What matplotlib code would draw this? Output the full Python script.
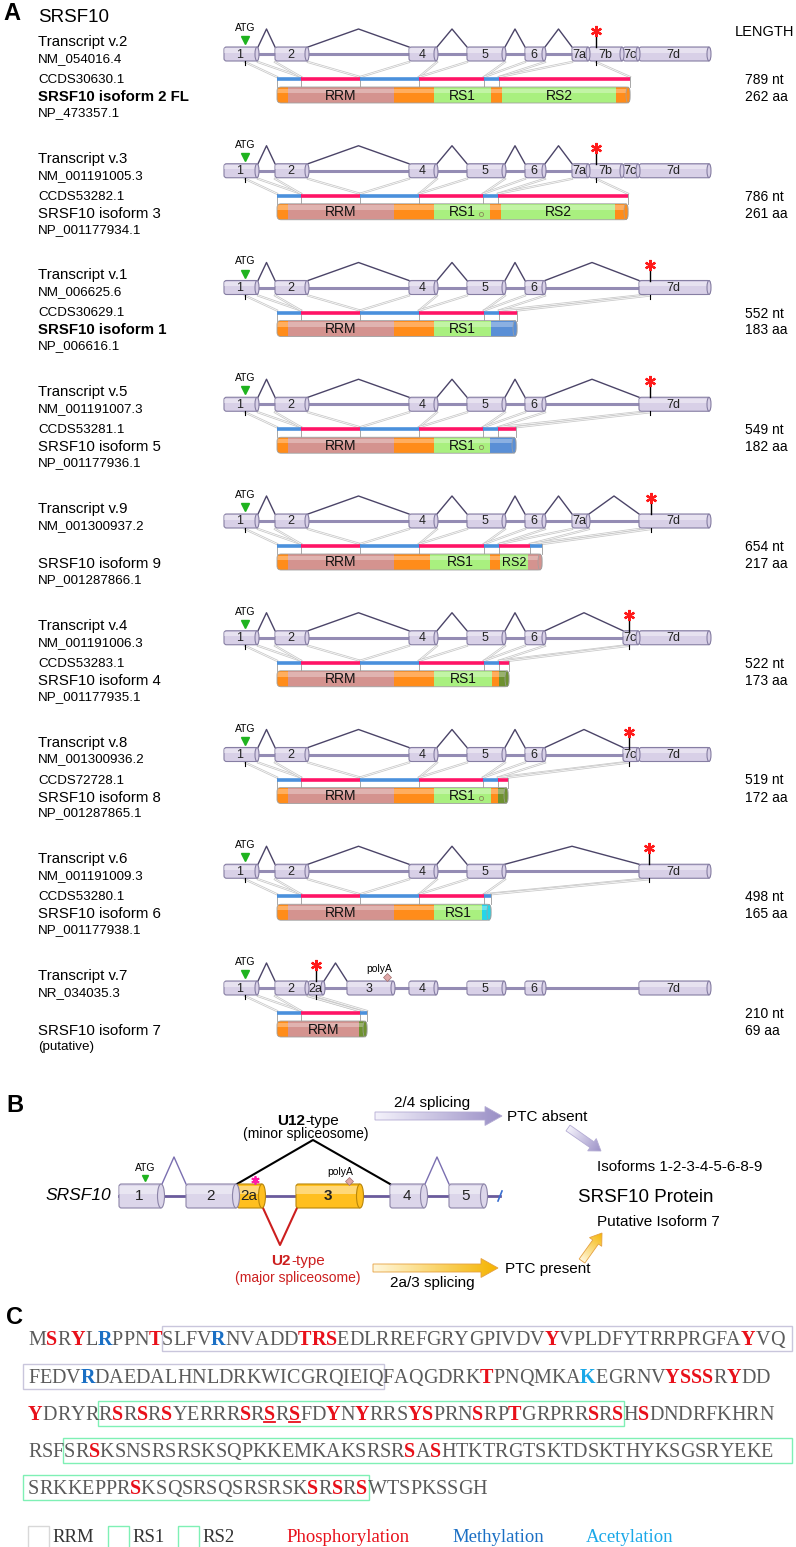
import numpy as np
import matplotlib
matplotlib.use("Agg")
import matplotlib.pyplot as plt
from matplotlib.patches import Rectangle, Ellipse, FancyBboxPatch, Polygon
from matplotlib.colors import LinearSegmentedColormap
from matplotlib.font_manager import FontProperties

plt.rcParams["font.family"] = ["Liberation Sans", "DejaVu Sans"]

# ---------------- panel A data ----------------
transcripts = ["Transcript v.2", "Transcript v.3", "Transcript v.1", "Transcript v.5", "Transcript v.9",
               "Transcript v.4", "Transcript v.8", "Transcript v.6", "Transcript v.7"]
refseq = ["NM_054016.4", "NM_001191005.3", "NM_006625.6", "NM_001191007.3", "NM_001300937.2",
          "NM_001191006.3", "NM_001300936.2", "NM_001191009.3", "NR_034035.3"]
ccds = ["CCDS30630.1", "CCDS53282.1", "CCDS30629.1", "CCDS53281.1", "",
        "CCDS53283.1", "CCDS72728.1", "CCDS53280.1", ""]
isoforms = ["SRSF10 isoform 2 FL", "SRSF10 isoform 3", "SRSF10 isoform 1", "SRSF10 isoform 5", "SRSF10 isoform 9",
            "SRSF10 isoform 4", "SRSF10 isoform 8", "SRSF10 isoform 6", "SRSF10 isoform 7"]
iso_bold = [True, False, True, False, False, False, False, False, False]
protein_ids = ["NP_473357.1", "NP_001177934.1", "NP_006616.1", "NP_001177936.1", "NP_001287866.1",
               "NP_001177935.1", "NP_001287865.1", "NP_001177938.1", "(putative)"]
nt_len = [789, 786, 552, 549, 654, 522, 519, 498, 210]
aa_len = [262, 261, 183, 182, 217, 173, 172, 165, 69]

exon_names = ["1", "2", "2a", "3", "4", "5", "6", "7a", "7b", "7c", "7d"]
exon_start = [224, 275, 308, 347, 409, 467, 525, 572, 589, 623, 639]
exon_end = [258, 308, 324, 394, 437, 505, 545, 589, 623, 639, 710]

exon_sets = [
    ["1", "2", "4", "5", "6", "7a", "7b", "7c", "7d"],
    ["1", "2", "4", "5", "6", "7a", "7b", "7c", "7d"],
    ["1", "2", "4", "5", "6", "7d"],
    ["1", "2", "4", "5", "6", "7d"],
    ["1", "2", "4", "5", "6", "7a", "7d"],
    ["1", "2", "4", "5", "6", "7c", "7d"],
    ["1", "2", "4", "5", "6", "7c", "7d"],
    ["1", "2", "4", "5", "7d"],
    ["1", "2", "2a", "3", "4", "5", "6", "7d"],
]
splices = [
    [("1", "2"), ("2", "4"), ("4", "5"), ("5", "6"), ("6", "7a")],
    [("1", "2"), ("2", "4"), ("4", "5"), ("5", "6"), ("6", "7a")],
    [("1", "2"), ("2", "4"), ("4", "5"), ("5", "6"), ("6", "7d")],
    [("1", "2"), ("2", "4"), ("4", "5"), ("5", "6"), ("6", "7d")],
    [("1", "2"), ("2", "4"), ("4", "5"), ("5", "6"), ("6", "7a"), ("7a", "7d")],
    [("1", "2"), ("2", "4"), ("4", "5"), ("5", "6"), ("6", "7c")],
    [("1", "2"), ("2", "4"), ("4", "5"), ("5", "6"), ("6", "7c")],
    [("1", "2"), ("2", "4"), ("4", "5"), ("5", "7d")],
    [("1", "2"), ("2a", "3")],
]
atg_pos = 245
stop_pos = [596, 596, 650, 650, 651, 629, 629, 649, 316]

stripe_edges = [
    [277, 301, 360, 419, 484, 499, 630],
    [277, 301, 360, 419, 483, 498, 628],
    [277, 301, 360, 419, 484, 499, 517],
    [277, 301, 360, 419, 483, 498, 516],
    [277, 301, 360, 419, 484, 499, 530, 542],
    [277, 301, 360, 419, 484, 499, 509],
    [277, 301, 360, 419, 483, 498, 508],
    [277, 301, 360, 419, 484, 491],
    [277, 301, 360, 367],
]
dom_edges = [
    [277, 288, 394, 434, 491, 502, 616, 630],
    [277, 288, 394, 434, 490, 501, 615, 628],
    [277, 288, 394, 434, 491, 517],
    [277, 288, 394, 434, 490, 516],
    [277, 288, 394, 430, 490, 500, 528, 542],
    [277, 288, 394, 434, 492, 499, 509],
    [277, 288, 394, 434, 491, 498, 508],
    [277, 288, 394, 434, 482, 491],
    [277, 288, 359, 367],
]
dom_kinds = [
    ["o", "rrm", "o", "rs", "o", "rs", "o"],
    ["o", "rrm", "o", "rs", "o", "rs", "o"],
    ["o", "rrm", "o", "rs", "b"],
    ["o", "rrm", "o", "rs", "b"],
    ["o", "rrm", "o", "rs", "o", "rs", "rrm"],
    ["o", "rrm", "o", "rs", "o", "ol"],
    ["o", "rrm", "o", "rs", "o", "ol"],
    ["o", "rrm", "o", "rs", "c"],
    ["o", "rrm", "ol"],
]
circle_rows = [1, 3, 6]
circle_x = 481

# ---------------- panel B data ----------------
b_exon_names = ["1", "2", "2a", "3", "4", "5"]
b_exon_start = [119, 186, 237, 296, 390, 449]
b_exon_end = [162, 237, 263, 361, 425, 485]
b_gold = ["2a", "3"]

# ---------------- panel C data ----------------
# * phosphorylation, # methylation, @ acetylation, _ phosphorylation (underlined)
seq_lines = [
    "M*SR*YL#RPPN*TSLFV#RNVADD*T*R*SEDLRREFGRYGPIVDV*YVPLDFYTRRPRGFA*YVQ",
    "FEDV#RDAEDALHNLDRKWICGRQIEIQFAQGDRK*TPNQMKA@KEGRNV*Y*S*S*SR*YDD",
    "*YDRYRR*SR*SR*SYERRR*SR_SR_SFD*YN*YRRS*Y*SPRN*SRP*TGRPRR*SR*SH*SDNDRFKHRN",
    "RSFSR*SKSNSRSRSKSQPKKEMKAKSRSR*SA*SHTKTRGTSKTDSKTHYKSGSRYEKE",
    "SRKKEPPR*SKSQSRSQSRSRSK*SR*SR*SWTSPKSSGH",
]
domain_boxes = [(0, 10, None, "RRM"), (1, 0, 27, "RRM"), (2, 5, 46, "RS1"),
                (3, 3, None, "RS2"), (4, 0, 27, "RS2")]
legend_boxes = ["RRM", "RS1", "RS2"]
legend_mods = ["Phosphorylation", "Methylation", "Acetylation"]

# ---------------- figure ----------------
W, H = 796, 1547
fig = plt.figure(figsize=(W / 100, H / 100), dpi=100)
ax = fig.add_axes([0, 0, 1, 1])
ax.set_xlim(0, W)
ax.set_ylim(H, 0)
ax.axis("off")

EX_FACE = "#d8d0e7"
EX_EDGE = "#867ea3"
INTRON = "#948cb4"
ARCH = "#4b4468"
STRIPE = ["#4a90dc", "#ff1466"]
DOM = {"o": "#ff8c1a", "rrm": "#d4938f", "rs": "#a9f07f", "b": "#5a8fd6",
       "ol": "#6e9130", "c": "#25d5e8"}
BOX = {"RRM": "#c9c6dc", "RS1": "#7ff0b5", "RS2": "#7ff0b5"}
MOD = {"*": "#e8101a", "_": "#e8101a", "#": "#1a6fc4", "@": "#1aa8e8", ".": "#5a5a5a"}


def cylinder(x0, x1, yc, h, fc, ec, label=None, fs=9, bold=False, capw=4, z=3):
    body = FancyBboxPatch((x0, yc - h / 2), x1 - x0, h, boxstyle="round,pad=0,rounding_size=2.5",
                          fc=fc, ec=ec, lw=0.8, zorder=z)
    ax.add_patch(body)
    hl = Rectangle((x0, yc - h / 2 + h * 0.1), x1 - x0, h * 0.3, fc="white", ec="none", alpha=0.4, zorder=z)
    ax.add_patch(hl)
    hl.set_clip_path(body)
    ax.add_patch(Ellipse((x1 - 1, yc), capw, h, fc=fc, ec=ec, lw=0.8, zorder=z + 0.1))
    if label:
        ax.text((x0 + x1) / 2 - 1, yc + 0.5, label, ha="center", va="center", fontsize=fs,
                fontweight="bold" if bold else "normal", color="#222222", zorder=z + 0.2)


def grad_arrow(x0, y0, x1, y1, shaft, head_w, head_l, c0, c1, ec):
    p0 = np.array([x0, y0], float)
    d = np.array([x1 - x0, y1 - y0], float)
    L = np.hypot(*d)
    u = d / L
    n = np.array([-u[1], u[0]])
    b = p0 + u * (L - head_l)
    pts = [p0 + n * shaft / 2, b + n * shaft / 2, b + n * head_w / 2, p0 + u * L,
           b - n * head_w / 2, b - n * shaft / 2, p0 - n * shaft / 2]
    poly = Polygon(pts, closed=True, fc="none", ec=ec, lw=0.6, zorder=3)
    ax.add_patch(poly)
    pts = np.array(pts)
    xmin, ymin = pts.min(axis=0)
    xmax, ymax = pts.max(axis=0)
    X, Y = np.meshgrid(np.linspace(xmin, xmax, 120), np.linspace(ymin, ymax, 60))
    t = ((X - x0) * u[0] + (Y - y0) * u[1]) / L
    cmap = LinearSegmentedColormap.from_list("g", [c0, c1])
    im = ax.imshow(t, extent=(xmin, xmax, ymax, ymin), origin="upper", cmap=cmap,
                   aspect="auto", zorder=2, vmin=0, vmax=1)
    im.set_clip_path(poly)


# ---------------- panel A ----------------
ax.text(3, 14, "A", fontsize=17, fontweight="bold", va="center", ha="left")
ax.text(38, 18, "SRSF10", fontsize=13.5, va="center", ha="left")
ax.text(735, 32, "LENGTH", fontsize=10.5, va="center", ha="left")

row0, row_step = 54, 116.75
for i in range(len(transcripts)):
    yc = row0 + i * row_step
    names = exon_sets[i]
    xs = [exon_start[exon_names.index(n)] for n in names]
    xe = [exon_end[exon_names.index(n)] for n in names]

    # left labels
    ax.text(38, yc - 12, transcripts[i], fontsize=10.8, va="center", ha="left")
    ax.text(38, yc + 5, refseq[i], fontsize=9.6, va="center", ha="left")
    if ccds[i]:
        ax.text(38, yc + 26, ccds[i], fontsize=9.6, va="center", ha="left")
    ax.text(38, yc + 43, isoforms[i], fontsize=10.8, va="center", ha="left",
            fontweight="bold" if iso_bold[i] else "normal")
    ax.text(38, yc + 59, protein_ids[i], fontsize=9.6, va="center", ha="left")
    ax.text(745, yc + 26, f"{nt_len[i]} nt", fontsize=10, va="center", ha="left")
    ax.text(745, yc + 43, f"{aa_len[i]} aa", fontsize=10, va="center", ha="left")

    # gene model
    ax.plot([xs[0], xe[-1]], [yc, yc], color=INTRON, lw=2.2, zorder=1, solid_capstyle="butt")
    for a, b in splices[i]:
        ea = exon_end[exon_names.index(a)]
        sb = exon_start[exon_names.index(b)]
        ax.plot([ea, (ea + sb) / 2, sb], [yc - 7, yc - 25, yc - 7], color=ARCH, lw=1, zorder=1)
    for n, a, b in zip(names, xs, xe):
        cylinder(a, b, yc, 14, EX_FACE, EX_EDGE, n, fs=9)

    # start / stop
    ax.text(atg_pos, yc - 26, "ATG", fontsize=7.5, ha="center", va="center")
    ax.plot(atg_pos, yc - 14, marker="v", ms=6, color="#1fb31f", zorder=5)
    ax.plot([atg_pos, atg_pos], [yc + 7, yc + 11], color="black", lw=0.8, zorder=5)
    sp = stop_pos[i]
    ax.plot([sp, sp], [yc - 18, yc - 7], color="black", lw=1, zorder=5)
    ax.plot([sp, sp], [yc + 7, yc + 11], color="black", lw=0.8, zorder=5)
    ax.plot(sp, yc - 23, marker=(6, 2, 0), ms=8, mew=1.6, color="#ff1a1a", zorder=5)
    if i == 8:
        ax.text(379, yc - 19, "polyA", fontsize=7.5, ha="center", va="center")
        ax.plot(387, yc - 11, marker="D", ms=4, mfc="#e0a8a8", mec="#a07070", mew=0.5, zorder=5)

    # coding pieces -> stripe mapping
    blocks = []
    for n, a, b in zip(names, xs, xe):
        g = "7" if n.startswith("7") else n
        if blocks and blocks[-1][0] == g and abs(blocks[-1][2] - a) < 1:
            blocks[-1][2] = b
        else:
            blocks.append([g, a, b])
    pieces = []
    for g, a, b in blocks:
        a2, b2 = max(a, atg_pos), min(b, sp)
        if b2 > a2:
            pieces.append((a2, b2))
    se = stripe_edges[i]
    for k, (a, b) in enumerate(pieces[:len(se) - 1]):
        for ex, px in ((a, se[k]), (b, se[k + 1])):
            ax.plot([ex, px], [yc + 8, yc + 23], color="#c8c8c8", lw=1.6, zorder=1)
            ax.plot([ex, px], [yc + 8, yc + 23], color="white", lw=0.5, zorder=1)
    for k in range(len(se) - 1):
        ax.plot([se[k], se[k + 1]], [yc + 25, yc + 25], color=STRIPE[k % 2], lw=2.6,
                solid_capstyle="butt", zorder=2)
    for e in se:
        ax.plot([e, e], [yc + 23, yc + 33], color="#999999", lw=0.6, zorder=1)

    # protein bar
    de, dk = dom_edges[i], dom_kinds[i]
    y0, hb = yc + 33, 16
    clip = FancyBboxPatch((de[0], y0), de[-1] - de[0], hb, boxstyle="round,pad=0,rounding_size=4",
                          fc="none", ec="#a0a0a0", lw=0.6, zorder=4)
    ax.add_patch(clip)
    rs_count = 0
    for a, b, k in zip(de[:-1], de[1:], dk):
        r = Rectangle((a, y0), b - a, hb, fc=DOM[k], ec="none", zorder=2)
        ax.add_patch(r)
        r.set_clip_path(clip)
        lab = None
        if k == "rrm" and a < 300:
            lab = "RRM"
        elif k == "rs":
            rs_count += 1
            lab = f"RS{rs_count}"
        if lab:
            ax.text((a + b) / 2, y0 + hb / 2 + 0.5, lab, fontsize=10 if b - a > 35 else 9,
                    ha="center", va="center", color="#111111", zorder=5)
    hl = Rectangle((de[0], y0 + 1.5), de[-1] - de[0], 4.5, fc="white", ec="none", alpha=0.3, zorder=3)
    ax.add_patch(hl)
    hl.set_clip_path(clip)
    ax.add_patch(Ellipse((de[-1] - 2, y0 + hb / 2), 4, hb, fc=DOM[dk[-1]], ec="#a0a0a0", lw=0.5, zorder=4))
    if i in circle_rows:
        ax.plot(circle_x, y0 + hb / 2 + 2, "o", ms=3, mfc="none", mec="#8a8a5a", mew=0.6, zorder=6)

# ---------------- panel B ----------------
yb = 1196
ax.text(6, 1105, "B", fontsize=17, fontweight="bold", va="center", ha="left")
ax.text(45, yb, "SRSF10", fontsize=12.5, style="italic", va="center", ha="left")
ax.plot([b_exon_start[0], 500], [yb, yb], color="#6a5b9c", lw=2, zorder=1)
ax.plot([498, 502], [yb + 5, yb - 5], color="#3a6fd0", lw=1.2, zorder=1)
for n, a, b in zip(b_exon_names, b_exon_start, b_exon_end):
    gold = n in b_gold
    cylinder(a, b, yb, 24, "#ffbf1f" if gold else "#dcd6ea", "#b8860b" if gold else "#8c84a8",
             n, fs=11, bold=(n == "3"), capw=7)
ax.plot([162, 174, 186], [yb - 12, yb - 39, yb - 12], color="#7a6fb0", lw=1, zorder=1)
ax.plot([425, 437, 449], [yb - 12, yb - 39, yb - 12], color="#7a6fb0", lw=1, zorder=1)
ax.plot([237, 313, 390], [yb - 12, yb - 56, yb - 12], color="black", lw=1.5, zorder=1)
ax.plot([263, 280, 297], [yb + 12, yb + 49, yb + 12], color="#cc1f1f", lw=1.5, zorder=1)
ax.text(145, 1168, "ATG", fontsize=7.5, ha="center", va="center")
ax.plot(145, 1178, marker="v", ms=5, color="#1fb31f", zorder=5)
ax.text(340, 1172, "polyA", fontsize=7.5, ha="center", va="center")
ax.plot(349, 1181, marker="D", ms=4, mfc="#e0a8a8", mec="#a07070", mew=0.5, zorder=5)
ax.plot(255, 1180, marker=(6, 2, 0), ms=6, mew=1.3, color="#ff1aa8", zorder=6)

ax.text(305, 1121, "U12", fontsize=11, fontweight="bold", ha="right", va="center")
ax.text(305, 1121, "-type", fontsize=11, ha="left", va="center")
ax.text(306, 1134, "(minor spliceosome)", fontsize=10, ha="center", va="center")
ax.text(291, 1261, "U2", fontsize=11, fontweight="bold", ha="right", va="center", color="#cc1f1f")
ax.text(291, 1261, "-type", fontsize=11, ha="left", va="center", color="#cc1f1f")
ax.text(298, 1278, "(major spliceosome)", fontsize=10, ha="center", va="center", color="#cc1f1f")

grad_arrow(375, 1116, 502, 1116, 8, 19, 17, "#f4f2fb", "#9a8fc6", "#b3abd3")
grad_arrow(568, 1128, 601, 1151, 7, 15, 11, "#f4f2fb", "#9a8fc6", "#b3abd3")
grad_arrow(373, 1268, 498, 1268, 8, 19, 17, "#fff7dc", "#f5b400", "#e5a040")
grad_arrow(582, 1261, 602, 1233, 7, 15, 11, "#fff7dc", "#f5b400", "#e5a040")
ax.text(432, 1103, "2/4 splicing", fontsize=11, ha="center", va="center")
ax.text(507, 1117, "PTC absent", fontsize=11, ha="left", va="center")
ax.text(597, 1167, "Isoforms 1-2-3-4-5-6-8-9", fontsize=11, ha="left", va="center")
ax.text(578, 1197, "SRSF10 Protein", fontsize=13.5, ha="left", va="center")
ax.text(597, 1222, "Putative Isoform 7", fontsize=11, ha="left", va="center")
ax.text(505, 1269, "PTC present", fontsize=11, ha="left", va="center")
ax.text(432, 1283, "2a/3 splicing", fontsize=11, ha="center", va="center")

# ---------------- panel C ----------------
ax.text(6, 1318, "C", fontsize=17, fontweight="bold", va="center", ha="left")
renderer = fig.canvas.get_renderer()


def parse(line):
    chars, marks, k = [], [], 0
    while k < len(line):
        if line[k] in "*#@_":
            chars.append(line[k + 1])
            marks.append(line[k])
            k += 2
        else:
            chars.append(line[k])
            marks.append(".")
            k += 1
    return chars, marks


def char_w(c, m, size):
    fp = FontProperties(family="Liberation Serif", size=size, weight="normal" if m == "." else "bold")
    return renderer.get_text_width_height_descent(c, fp, ismath=False)[0]


parsed = [parse(s) for s in seq_lines]
x_start, x_target = 28, 787
w_ref = sum(char_w(c, m, 10) for c, m in zip(*parsed[0]))
fs_seq = 10 * (x_target - x_start) / w_ref
line_y = [1338, 1376, 1413, 1450, 1487]
cap = 0.66 * fs_seq * 100 / 72

positions = []
for (chars, marks), yc in zip(parsed, line_y):
    x = x_start
    pos = []
    base = yc + cap / 2
    for c, m in zip(chars, marks):
        w = char_w(c, m, fs_seq)
        pos.append(x)
        ax.text(x, base, c, fontsize=fs_seq, family="Liberation Serif",
                fontweight="normal" if m == "." else "bold", color=MOD[m],
                ha="left", va="baseline", zorder=5)
        if m == "_":
            ax.plot([x, x + w], [base + 2.5, base + 2.5], color=MOD[m], lw=1.3, zorder=5)
        x += w
    pos.append(x)
    positions.append(pos)

for li, i0, i1, kind in domain_boxes:
    pos = positions[li]
    left = pos[i0] - 0.5 if i0 > 0 else x_start - 5
    right = pos[i1] + 1 if i1 is not None else 792
    yc = line_y[li]
    ax.add_patch(Rectangle((left, yc - 12.5), right - left, 25, fc="none", ec=BOX[kind], lw=1, zorder=4))

ly = 1537
lx = [28, 108, 178]
for x, lab in zip(lx, legend_boxes):
    ax.add_patch(Rectangle((x, ly - 11), 21, 24, fc="none", ec="#d8d8d8" if lab == "RRM" else BOX[lab], lw=1))
    ax.text(x + 24, ly, lab, fontsize=13.5, family="Liberation Serif", color="#333333", ha="left", va="center")
for x, lab, col in zip([286, 452, 586], legend_mods, [MOD["*"], MOD["#"], MOD["@"]]):
    ax.text(x, ly, lab, fontsize=13.5, family="Liberation Serif", color=col, ha="left", va="center")

ax.set_xlim(0, W)
ax.set_ylim(H, 0)
fig.savefig("out.png", dpi=100)
